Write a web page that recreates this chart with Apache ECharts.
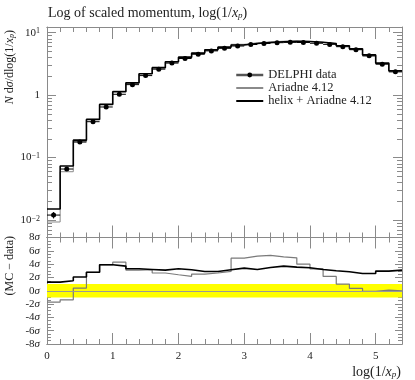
<!DOCTYPE html>
<html>
<head>
<meta charset="utf-8">
<script src="https://cdn.jsdelivr.net/npm/echarts@6/dist/echarts.min.js"></script>
<style>
html, body { margin: 0; padding: 0; background: #fff; }
#chart { width: 415px; height: 380px; }
</style>
</head>
<body>
<div id="chart"></div>
<script>
// bin edges of log(1/x_p)
const binEdges = [0, 0.2, 0.4, 0.6, 0.8, 1, 1.2, 1.4, 1.6, 1.8, 2, 2.2, 2.4, 2.6, 2.8, 3, 3.2, 3.4, 3.6, 3.8, 4, 4.2, 4.4, 4.6, 4.8, 5, 5.2, 5.4]

// DELPHI data points + errors
const dataVals = [0.0120, 0.0655, 0.177, 0.375, 0.645, 1.03, 1.47, 2.05, 2.6, 3.25, 3.85, 4.5, 5.1, 5.6, 6.1, 6.45, 6.7, 6.9, 6.98, 6.95, 6.75, 6.48, 5.95, 5.33, 4.25, 3.13, 2.36]
const dataErr = [0.0014, 0.0035, 0.006, 0.01, 0.015, 0.02, 0.025, 0.03, 0.04, 0.05, 0.06, 0.06, 0.07, 0.07, 0.08, 0.08, 0.08, 0.08, 0.08, 0.08, 0.08, 0.08, 0.08, 0.08, 0.07, 0.06, 0.05]

// MC predictions
const ariadneVals = [0.0093, 0.0593, 0.180, 0.408, 0.71, 1.16, 1.56, 2.2, 2.72, 3.36, 4.0, 4.68, 5.3, 5.82, 6.5, 6.87, 7.12, 7.28, 7.34, 7.22, 6.98, 6.65, 6.05, 5.36, 4.24, 3.14, 2.36]
const helixVals = [0.0150, 0.0731, 0.190, 0.408, 0.71, 1.13, 1.57, 2.2, 2.75, 3.42, 4.05, 4.7, 5.3, 5.85, 6.35, 6.7, 6.95, 7.15, 7.25, 7.2, 7.0, 6.7, 6.15, 5.5, 4.4, 3.25, 2.45]

// (MC - data) in sigma
const ariadneDev = [-1.7, -1.36, 0.4, 2.77, 3.9, 4.3, 3.1, 3.17, 2.67, 2.4, 2.16, 2.5, 2.67, 2.9, 4.9, 5.2, 5.3, 5.1, 4.95, 4.0, 3.3, 2.15, 1.0, 0.35, -0.1, 0.1, 0.0]
const helixDev = [1.3, 1.5, 2.07, 2.77, 3.9, 3.7, 3.3, 3.2, 3.1, 3.3, 3.15, 2.9, 2.9, 3.15, 3.4, 3.2, 3.5, 3.7, 3.55, 3.45, 3.2, 3.0, 2.85, 2.6, 2.6, 2.95, 3.1]

// log axis labels
const decadeValues = [0.01, 0.1, 1, 10]
const decadeLabels = ['10{sup|−2}', '10{sup|−1}', '1', '10{sup|1}']
const minorMultiples = [2, 3, 4, 5, 6, 7, 8, 9]
const decadeStarts = [0.001, 0.01, 0.1, 1]

const serif = "'Liberation Serif', 'DejaVu Serif', serif"
const frameColor = '#8a8a8a'
const textColor = '#222'
const yMinTop = 0.00525
const yMaxTop = 12.3

const rich = {
  i: { fontStyle: 'italic', fontFamily: serif, fontSize: 12, color: textColor },
  sub: { fontStyle: 'italic', fontFamily: serif, fontSize: 8, color: textColor, verticalAlign: 'bottom', lineHeight: 7 },
  sup: { fontFamily: serif, fontSize: 8, color: textColor, verticalAlign: 'top', lineHeight: 8 },
  n: { fontFamily: serif, fontSize: 11, color: textColor },
  s: { fontFamily: serif, fontStyle: 'italic', fontSize: 11, color: textColor }
}
const richBig = {
  i: { fontStyle: 'italic', fontFamily: serif, fontSize: 14, color: textColor },
  sub: { fontStyle: 'italic', fontFamily: serif, fontSize: 9, color: textColor, verticalAlign: 'bottom', lineHeight: 8 }
}

const binCenters = dataVals.map((v, i) => (binEdges[i] + binEdges[i + 1]) / 2)

const steps = (vals) => {
  const pts = vals.map((v, i) => [binEdges[i], v])
  pts.push([binEdges[vals.length], vals[vals.length - 1]])
  return pts
}

const minorLogTicks = []
decadeStarts.forEach((d) => {
  minorMultiples.forEach((m) => {
    const v = d * m
    if (v > yMinTop && v < yMaxTop) minorLogTicks.push([0, v])
  })
})

const xAxisFor = (grid, position, interval, tickLen, withLabels) => ({
  type: 'value',
  gridIndex: grid,
  position: position,
  min: 0,
  max: 5.4,
  interval: interval,
  axisLine: { show: true, onZero: false, lineStyle: { color: frameColor, width: 1 } },
  axisTick: { show: true, inside: true, length: tickLen, lineStyle: { color: frameColor, width: 1 } },
  axisLabel: { show: withLabels, showMaxLabel: false, margin: 7, fontFamily: serif, fontSize: 11, color: textColor },
  splitLine: { show: false }
})

const logAxis = (position, withLabels) => ({
  type: 'log',
  logBase: 10,
  gridIndex: 0,
  position: position,
  min: yMinTop,
  max: yMaxTop,
  axisLine: { show: true, onZero: false, lineStyle: { color: frameColor, width: 1 } },
  axisTick: { show: true, inside: true, length: 9, lineStyle: { color: frameColor, width: 1 } },
  axisLabel: {
    show: withLabels,
    margin: 7,
    fontFamily: serif,
    fontSize: 11,
    color: textColor,
    rich: rich,
    formatter: (v) => {
      const k = decadeValues.findIndex((d) => Math.abs(Math.log10(v) - Math.log10(d)) < 1e-6)
      return k < 0 ? '' : decadeLabels[k]
    }
  },
  splitLine: { show: false }
})

const devAxis = (position, withLabels) => ({
  type: 'value',
  gridIndex: 1,
  position: position,
  min: -8,
  max: 8,
  interval: 2,
  axisLine: { show: true, onZero: false, lineStyle: { color: frameColor, width: 1 } },
  axisTick: { show: true, inside: true, length: 7, lineStyle: { color: frameColor, width: 1 } },
  minorTick: { show: true, splitNumber: 4, length: 4, lineStyle: { color: frameColor, width: 1 } },
  axisLabel: {
    show: withLabels,
    margin: 7,
    rich: rich,
    formatter: (v) => '{n|' + (v < 0 ? '-' : '') + Math.abs(v) + '}{s|σ}'
  },
  splitLine: { show: false }
})

const chart = echarts.init(document.getElementById('chart'))

chart.setOption({
  animation: false,
  backgroundColor: '#fff',
  title: {
    text: 'Log of scaled momentum, log(1/{i|x}{sub|p})',
    left: 48,
    top: 6,
    padding: 0,
    textStyle: { fontFamily: serif, fontSize: 14, fontWeight: 'normal', color: textColor, rich: richBig }
  },
  legend: {
    left: 235,
    top: 68.5,
    padding: 0,
    orient: 'vertical',
    itemWidth: 27,
    itemHeight: 6,
    itemGap: 0,
    selectedMode: false,
    textStyle: { fontFamily: serif, fontSize: 12.5, color: textColor, lineHeight: 13 },
    data: [
      { name: 'DELPHI data', lineStyle: { opacity: 1, width: 2.5, color: '#555' }, itemStyle: { color: '#000' } },
      { name: 'Ariadne 4.12', itemStyle: { opacity: 0 } },
      { name: 'helix + Ariadne 4.12', itemStyle: { opacity: 0 } }
    ]
  },
  graphic: [
    {
      type: 'text', x: 10, y: 30, rotation: Math.PI / 2,
      style: {
        text: '{i|N} d{i|σ}/dlog(1/{i|x}{sub|p})', rich: rich,
        fontFamily: serif, fontSize: 12, fill: textColor, align: 'right', verticalAlign: 'middle'
      }
    },
    {
      type: 'text', x: 10, y: 236, rotation: Math.PI / 2,
      style: {
        text: '(MC − data)', fontFamily: serif, fontSize: 12, fill: textColor,
        align: 'right', verticalAlign: 'middle'
      }
    },
    {
      type: 'text', x: 401, y: 372,
      style: {
        text: 'log(1/{i|x}{sub|p})', rich: richBig, fontFamily: serif, fontSize: 14, fill: textColor,
        align: 'right', verticalAlign: 'middle'
      }
    }
  ],
  grid: [
    { left: 47, right: 13, top: 27, height: 210.5 },
    { left: 47, right: 13, top: 237.5, height: 106.5 }
  ],
  xAxis: [
    xAxisFor(0, 'bottom', 1, 12, false),
    xAxisFor(0, 'top', 1, 12, false),
    xAxisFor(0, 'bottom', 0.2, 5, false),
    xAxisFor(0, 'top', 0.2, 5, false),
    xAxisFor(1, 'bottom', 1, 11, true),
    xAxisFor(1, 'top', 1, 11, false),
    xAxisFor(1, 'bottom', 0.2, 5, false),
    xAxisFor(1, 'top', 0.2, 5, false)
  ],
  yAxis: [
    logAxis('left', true),
    logAxis('right', false),
    devAxis('left', true),
    devAxis('right', false)
  ],
  series: [
    {
      type: 'custom',
      xAxisIndex: 0,
      yAxisIndex: 0,
      silent: true,
      z: 1,
      data: minorLogTicks,
      renderItem: (params, api) => {
        const v = api.value(1)
        const pl = api.coord([0, v])
        const pr = api.coord([5.4, v])
        const y = Math.round(pl[1]) + 0.5
        return {
          type: 'group',
          children: [
            { type: 'line', shape: { x1: pl[0], y1: y, x2: pl[0] + 5, y2: y }, style: { stroke: frameColor, lineWidth: 1 } },
            { type: 'line', shape: { x1: pr[0] - 5, y1: y, x2: pr[0], y2: y }, style: { stroke: frameColor, lineWidth: 1 } }
          ]
        }
      }
    },
    {
      name: 'Ariadne 4.12',
      type: 'line',
      xAxisIndex: 0,
      yAxisIndex: 0,
      step: 'end',
      symbol: 'none',
      data: steps(ariadneVals),
      lineStyle: { color: '#8a8a8a', width: 1 },
      itemStyle: { color: '#8a8a8a' },
      z: 3
    },
    {
      name: 'helix + Ariadne 4.12',
      type: 'line',
      xAxisIndex: 0,
      yAxisIndex: 0,
      step: 'end',
      symbol: 'none',
      data: steps(helixVals),
      lineStyle: { color: '#000', width: 1.6 },
      itemStyle: { color: '#000' },
      z: 4
    },
    {
      type: 'custom',
      xAxisIndex: 0,
      yAxisIndex: 0,
      silent: true,
      z: 5,
      data: dataVals.map((v, i) => [binCenters[i], v, dataErr[i], i]),
      renderItem: (params, api) => {
        const c = api.value(0)
        const v = api.value(1)
        const e = api.value(2)
        const i = api.value(3)
        const a = api.coord([binEdges[i], v])
        const b = api.coord([binEdges[i + 1], v])
        const t = api.coord([c, v + e])
        const d = api.coord([c, v - e])
        return {
          type: 'group',
          children: [
            { type: 'line', shape: { x1: a[0], y1: a[1], x2: b[0], y2: b[1] }, style: { stroke: '#000', lineWidth: 1 } },
            { type: 'line', shape: { x1: t[0], y1: t[1], x2: d[0], y2: d[1] }, style: { stroke: '#000', lineWidth: 1 } }
          ]
        }
      }
    },
    {
      name: 'DELPHI data',
      type: 'line',
      xAxisIndex: 0,
      yAxisIndex: 0,
      data: dataVals.map((v, i) => [binCenters[i], v]),
      symbol: 'circle',
      symbolSize: 5,
      showAllSymbol: true,
      itemStyle: { color: '#000' },
      lineStyle: { opacity: 0 },
      z: 6
    },
    {
      name: 'band',
      type: 'line',
      xAxisIndex: 4,
      yAxisIndex: 2,
      data: [],
      z: 1,
      markArea: {
        silent: true,
        itemStyle: { color: '#ffff00', opacity: 1 },
        data: [[{ xAxis: 0, yAxis: -1 }, { xAxis: 5.4, yAxis: 1 }]]
      },
      markLine: {
        silent: true,
        symbol: 'none',
        label: { show: false },
        lineStyle: { color: '#999', width: 1, type: 'solid' },
        data: [{ yAxis: 0 }]
      }
    },
    {
      name: 'Ariadne dev',
      type: 'line',
      xAxisIndex: 4,
      yAxisIndex: 2,
      step: 'end',
      symbol: 'none',
      data: steps(ariadneDev),
      lineStyle: { color: '#7a7a7a', width: 1.2 },
      z: 3
    },
    {
      name: 'helix dev',
      type: 'line',
      xAxisIndex: 4,
      yAxisIndex: 2,
      step: 'end',
      symbol: 'none',
      data: steps(helixDev),
      lineStyle: { color: '#000', width: 1.6 },
      z: 4
    }
  ]
})
</script>
</body>
</html>
